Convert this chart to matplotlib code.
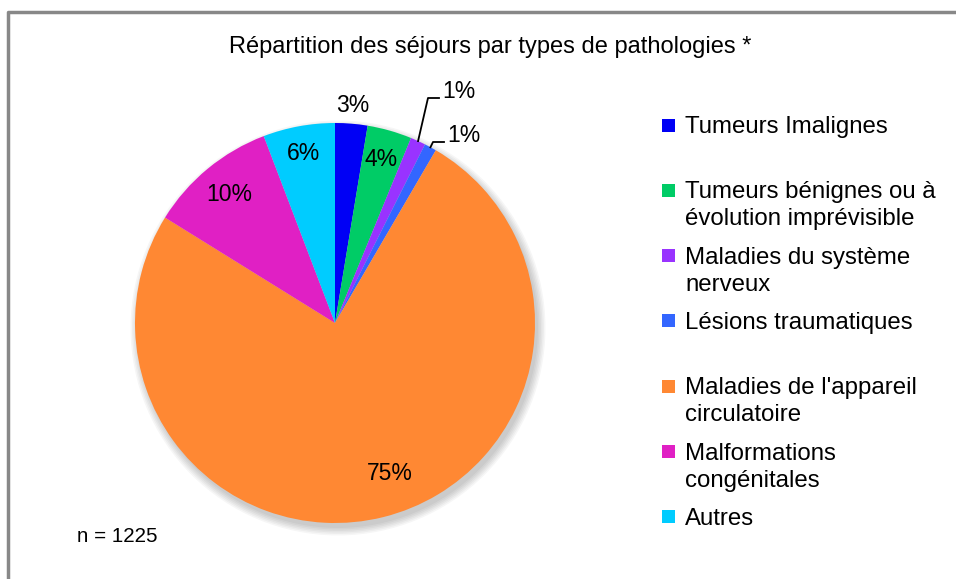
import numpy as np
import matplotlib
matplotlib.use("Agg")
import matplotlib.pyplot as plt
from matplotlib.patches import Rectangle, Circle

plt.rcParams['font.family'] = ['Liberation Sans', 'DejaVu Sans']

# Données (nombre de séjours, n = 1225)
categories = [
    "Tumeurs Imalignes",
    "Tumeurs bénignes ou à\névolution imprévisible",
    "Maladies du système\nnerveux",
    "Lésions traumatiques",
    "Maladies de l'appareil\ncirculatoire",
    "Malformations\ncongénitales",
    "Autres",
]
counts = [32, 44, 15, 12, 924, 127, 71]
colors = ["#0000F5", "#00CC66", "#9933FF", "#3366FF", "#FF8833", "#E020C4", "#00CCFF"]
title = "Répartition des séjours par types de pathologies *"
n_label = "n = 1225"

W, H = 956, 579
fig = plt.figure(figsize=(W / 100, H / 100), dpi=100)
ax = fig.add_axes([0, 0, 1, 1])

cx, cy, R = 335, 323, 200

# ombre douce sous le camembert
for k in range(6):
    ax.add_patch(Circle((cx + 3, cy + 5), R + 1.5 * k, color='black',
                        alpha=0.035, lw=0, zorder=1))

# ylim inversé : le sens "antihoraire" de matplotlib devient horaire à l'écran
wedges, _ = ax.pie(counts, colors=colors, startangle=-90, counterclock=True,
                   center=(cx, cy), radius=R, frame=True,
                   wedgeprops=dict(linewidth=0, zorder=2))
ax.set_xlim(0, W)
ax.set_ylim(H, 0)  # coordonnées en pixels, y vers le bas
ax.set_aspect('equal')
ax.axis('off')

total = sum(counts)
pcts = [100 * c / total for c in counts]
# distance radiale de chaque étiquette (None = étiquette avec ligne de rappel)
label_r = [1.09, 0.85, None, None, 0.80, 0.83, 0.86]
label_shift = [0, 0, 0, 0, -6, 0, 0]

for w, p, r, s in zip(wedges, pcts, label_r, label_shift):
    if r is None:
        continue
    mid = np.deg2rad((w.theta1 + w.theta2) / 2 + s)
    x = cx + r * R * np.cos(mid)
    y = cy + r * R * np.sin(mid)
    ax.text(x, y, f"{p:.0f}%", ha='center', va='center', fontsize=16.5, zorder=5)

# étiquettes avec lignes de rappel pour les petites parts
leaders = {2: ((428, 98), (439, 98), (442, 92)),
           3: ((433, 142), (444, 142), (447, 135))}
for i, (p1, p2, t) in leaders.items():
    w = wedges[i]
    mid = np.deg2rad((w.theta1 + w.theta2) / 2)
    ex = cx + R * np.cos(mid)
    ey = cy + R * np.sin(mid)
    ax.plot([ex, p1[0], p2[0]], [ey, p1[1], p2[1]], color='black', lw=1.3, zorder=5)
    ax.text(t[0], t[1], f"{pcts[i]:.0f}%", ha='left', va='center', fontsize=16.5, zorder=5)

# légende dessinée à la main (une ligne de texte à la fois)
lx, ly0, step, line_h = 662, 125, 65.3, 27
for i, (lab, col) in enumerate(zip(categories, colors)):
    y = ly0 + i * step
    ax.add_patch(Rectangle((lx, y - 6.5), 13, 13, color=col, lw=0))
    for j, line in enumerate(lab.split("\n")):
        ax.text(lx + 23, y + 8 + j * line_h, line, ha='left', va='baseline',
                fontsize=17.3)

ax.text(490, 47, title, ha='center', va='center', fontsize=17)
ax.text(77, 537, n_label, ha='left', va='center', fontsize=14.8)

# cadre gris (haut et gauche visibles)
ax.plot([8.5, 8.5, W + 5], [H + 5, 11.5, 11.5], color='#888888', lw=2.5,
        clip_on=False)

fig.savefig("out.png", dpi=100)
